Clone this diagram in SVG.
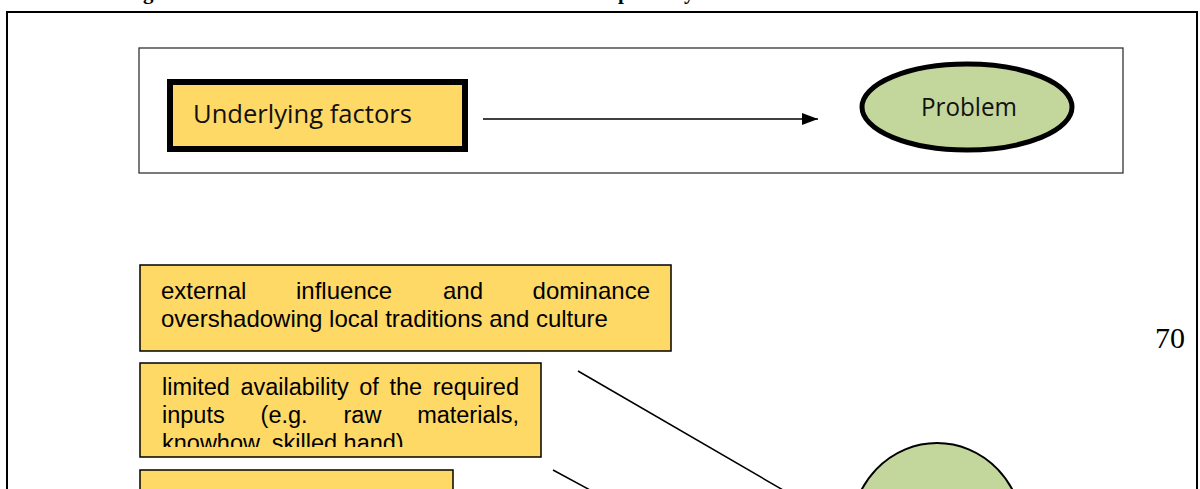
<svg xmlns="http://www.w3.org/2000/svg" width="1200" height="489" viewBox="0 0 1200 489">
  <style>
    .frame { fill: none; stroke: #000; stroke-width: 2; }
    .legend { fill: #fff; stroke: #333; stroke-width: 1.3; }
    .factor { fill: #FFD966; stroke: #000; stroke-width: 1.5; }
    .factor-key { fill: #FFD966; stroke: #000; stroke-width: 6; }
    .problem { fill: #C3D69B; stroke: #000; }
    .cal { font-family: "Open Sans", "Liberation Sans", sans-serif; fill: #111; }
    .body { font-family: "Liberation Sans", Arial, sans-serif; fill: #000; }
    .title { font-family: "Liberation Serif", "Times New Roman", serif; font-weight: bold; font-size: 21px; fill: #000; }
    .pageno { font-family: "Liberation Serif", "Times New Roman", serif; font-size: 30px; fill: #000; }
    .link { stroke: #000; stroke-width: 1.5; fill: none; }
  </style>
  <defs>
    <marker id="arrowhead" markerWidth="16" markerHeight="12" refX="16" refY="6" orient="auto" markerUnits="userSpaceOnUse">
      <path d="M0,0 L16,6 L0,12 Z" fill="#000"/>
    </marker>
    <clipPath id="clip-box2">
      <rect x="140" y="363" width="401" height="84"/>
    </clipPath>
  </defs>

  <rect width="1200" height="489" fill="#fff"/>

  <!-- caption line, mostly above the visible area -->
  <g id="caption">
    <text class="title" x="143" y="-1">g</text>
    <text class="title" x="618" y="-1">p</text>
    <text class="title" x="684" y="-1">y</text>
  </g>

  <!-- page frame -->
  <rect class="frame" x="7" y="12" width="1190" height="500"/>

  <!-- page number -->
  <text class="pageno" x="1155" y="348">70</text>

  <!-- key box -->
  <g id="legend">
    <rect class="legend" x="139" y="48" width="984" height="125"/>
  </g>
  <g id="key-factor">
    <rect class="factor-key" x="170" y="82" width="295" height="67"/>
    <text class="cal" x="193" y="123" font-size="25.5" textLength="219" lengthAdjust="spacingAndGlyphs">Underlying factors</text>
  </g>
  <g id="key-problem">
    <ellipse class="problem" cx="967" cy="107" rx="105" ry="43" stroke-width="5"/>
    <text class="cal" x="969" y="116" font-size="25" text-anchor="middle" textLength="96" lengthAdjust="spacingAndGlyphs">Problem</text>
  </g>

  <!-- factor boxes -->
  <g id="factor-external">
    <rect class="factor" x="140" y="265" width="531" height="86"/>
    <text class="body" font-size="24" y="299">
      <tspan x="161">external</tspan>
      <tspan x="296">influence</tspan>
      <tspan x="443">and</tspan>
      <tspan x="650" text-anchor="end">dominance</tspan>
    </text>
    <text class="body" font-size="24" x="161" y="327">overshadowing local traditions and culture</text>
  </g>

  <g id="factor-inputs">
    <rect class="factor" x="140" y="363" width="401" height="94"/>
    <g clip-path="url(#clip-box2)">
      <text class="body" font-size="23.5" y="395">
        <tspan x="162">limited</tspan>
        <tspan x="240.4">availability</tspan>
        <tspan x="359.3">of</tspan>
        <tspan x="389.4">the</tspan>
        <tspan x="519" text-anchor="end">required</tspan>
      </text>
      <text class="body" font-size="23.5" y="423">
        <tspan x="162">inputs</tspan>
        <tspan x="260.6">(e.g.</tspan>
        <tspan x="343.5">raw</tspan>
        <tspan x="519" text-anchor="end">materials,</tspan>
      </text>
      <text class="body" font-size="23.5" x="162" y="451">knowhow, skilled hand)</text>
    </g>
  </g>

  <g id="factor-third">
    <rect class="factor" x="140" y="470" width="313" height="40"/>
  </g>

  <g id="core-problem">
    <ellipse class="problem" cx="937" cy="533" rx="86" ry="90" stroke-width="2"/>
  </g>

  <!-- connectors -->
  <g id="connectors">
    <line class="link" x1="483" y1="119" x2="818" y2="119" marker-end="url(#arrowhead)"/>
    <line class="link" x1="578" y1="371" x2="783" y2="490"/>
    <line class="link" x1="553" y1="470" x2="590" y2="490"/>
  </g>
</svg>
